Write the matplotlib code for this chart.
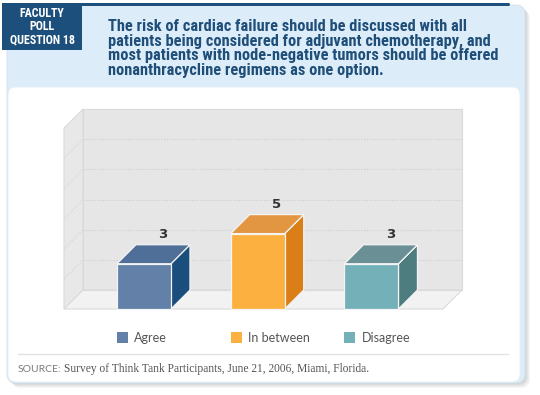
import numpy as np
import matplotlib
matplotlib.use("Agg")
import matplotlib.pyplot as plt
import matplotlib.font_manager as fm
from matplotlib.patches import Rectangle, Polygon, FancyBboxPatch
from matplotlib.transforms import blended_transform_factory

# data
categories = ["Agree", "In between", "Disagree"]
votes = [3, 5, 3]
front_colors = ["#6280a8", "#fbb040", "#74b0b7"]
top_colors = ["#4f6f98", "#e39642", "#6a8f95"]
side_colors = ["#1a4e7c", "#da7f18", "#4e7d80"]
y_max = 12
grid_ticks = [2, 4, 6, 8, 10]

box_label = "FACULTY\nPOLL\nQUESTION 18"
question = ("The risk of cardiac failure should be discussed with all\n"
            "patients being considered for adjuvant chemotherapy, and\n"
            "most patients with node-negative tumors should be offered\n"
            "nonanthracycline regimens as one option.")
source_head = "SOURCE:"
source_body = "Survey of Think Tank Participants, June 21, 2006, Miami, Florida."

# fonts
avail = {f.name for f in fm.fontManager.ttflist}
def pick(*names):
    for n in names:
        if n in avail:
            return n
    return "DejaVu Sans"
cond = pick("Liberation Sans Narrow", "Roboto Condensed", "Lato")
light = pick("Lato", "Roboto", "DejaVu Sans")
serif = pick("Liberation Serif", "DejaVu Serif")

W, H = 540, 395
fig = plt.figure(figsize=(W / 100, H / 100), dpi=100)
fig.patch.set_facecolor("white")

# background / card decorations in pixel coords
bg = fig.add_axes([0, 0, 1, 1], zorder=0)
bg.set_xlim(0, W)
bg.set_ylim(H, 0)
bg.axis("off")

# soft shadow
for k in range(1, 6):
    bg.add_patch(FancyBboxPatch((7 + k, 5 + k), 518, 378,
                                boxstyle="round,pad=0,rounding_size=9",
                                fc="#000000", ec="none", alpha=0.035))
# card
bg.add_patch(FancyBboxPatch((7, 5), 518, 378, boxstyle="round,pad=0,rounding_size=9",
                            fc="#dcedf9", ec="#cfe3f1", lw=0.6))
bg.add_patch(FancyBboxPatch((8, 87), 512, 295, boxstyle="round,pad=0,rounding_size=8",
                            fc="white", ec="#e3eef6", lw=0.6))
# dark top line and question box
bg.add_patch(FancyBboxPatch((80, 3), 430, 3, boxstyle="round,pad=0,rounding_size=1.5",
                            fc="#1d4f7c", ec="none"))
bg.add_patch(Rectangle((2, 3), 80, 47, fc="#1d4f7c", ec="none"))

t_box = bg.text(42, 26.5, box_label, color="white", fontsize=9, fontweight="bold",
                family=cond, ha="center", va="center")
t_q = bg.text(108, 48.5, question, color="#1f4e79", fontsize=10, fontweight="bold",
              family=cond, ha="left", va="center")

# fit text widths and line pitch to the reference
fig.canvas.draw()
r = fig.canvas.get_renderer()
sq = 10 * 389 / t_q.get_window_extent(r).width
t_q.set_fontsize(sq)
t_q.set_linespacing(15.7 / (sq * 100 / 72))
sb = 9 * 66 / t_box.get_window_extent(r).width
t_box.set_fontsize(sb)
t_box.set_linespacing(12.5 / (sb * 100 / 72))

# separator and source
bg.plot([18, 508], [354, 354], color="#e2e2e2", lw=1)
bg.text(18, 369, source_head, color="#7a7a7a", fontsize=7.5, family=light,
        ha="left", va="center")
bg.text(64, 369, source_body, color="#555555", fontsize=8.3, family=serif,
        ha="left", va="center")

# chart axes = back wall of the 3D box
ax = fig.add_axes([83 / W, 1 - 290 / H, 379 / W, 181 / H], zorder=2)
xmin, xmax = -0.703, 2.629
ax.set_xlim(xmin, xmax)
ax.set_ylim(0, y_max)
ax.set_facecolor("#e6e6e6")
ax.set_xticks([])
ax.set_yticks(grid_ticks)
ax.tick_params(left=False, labelleft=False)
ax.yaxis.grid(True, linestyle=(0, (1, 1.5)), color="#cdcdcd", lw=0.8)
for s in ax.spines.values():
    s.set_color("#dadada")
    s.set_linewidth(0.8)

DX, DY = 0.167, 1.26
bw = 0.475

# left wall and floor
ax.add_patch(Polygon([(xmin - DX, -DY), (xmin, 0), (xmin, y_max), (xmin - DX, y_max - DY)],
                     closed=True, fc="#e8e8e8", ec="#dadada", lw=0.8, clip_on=False, zorder=1))
for g in grid_ticks:
    ax.plot([xmin - DX, xmin], [g - DY, g], linestyle=(0, (1, 1.5)), color="#d2d2d2",
            lw=0.8, clip_on=False, zorder=1.5)
ax.add_patch(Polygon([(xmin - DX, -DY), (xmax - DX, -DY), (xmax, 0), (xmin, 0)],
                     closed=True, fc="#f2f2f2", ec="#dadada", lw=0.8, clip_on=False, zorder=2))

# 3D bars
for i, v in enumerate(votes):
    x0 = i - bw / 2 - DX
    x1 = i + bw / 2 - DX
    ec = "#f4f4f4"
    ax.add_patch(Polygon([(x1, -DY), (x1 + DX, 0), (x1 + DX, v), (x1, v - DY)], closed=True,
                         fc=side_colors[i], ec=ec, lw=0.9, clip_on=False, zorder=3))
    ax.add_patch(Polygon([(x0, v - DY), (x1, v - DY), (x1 + DX, v), (x0 + DX, v)], closed=True,
                         fc=top_colors[i], ec=ec, lw=0.9, clip_on=False, zorder=3))
    ax.add_patch(Rectangle((x0, -DY), bw, v, fc=front_colors[i], ec=ec, lw=0.9,
                           clip_on=False, zorder=4))
    ax.text(i, v + 0.68, str(v), ha="center", va="center", fontsize=9.5,
            fontweight="bold", color="#333333", zorder=5)

# legend
trans = blended_transform_factory(ax.transData, fig.transFigure)
for i, c in enumerate(categories):
    x0 = i - bw / 2 - DX
    ax.add_patch(Rectangle((x0, 1 - 343 / H), 11 / 113.75, 11 / H, transform=trans,
                           fc=front_colors[i], ec="none", clip_on=False))
    ax.text(x0 + 17 / 113.75, 1 - 338 / H, c, transform=trans, ha="left", va="center",
            fontsize=9, color="#555555", family=light)

fig.savefig("out.png", dpi=100)
